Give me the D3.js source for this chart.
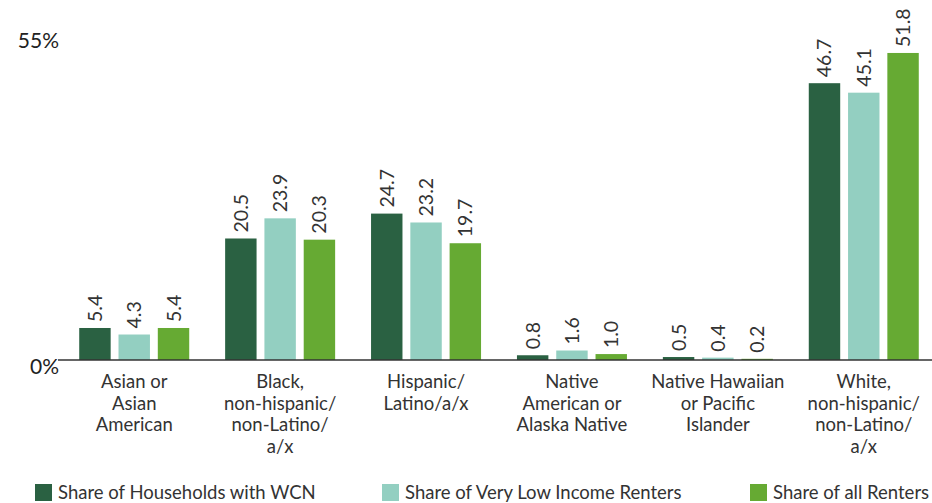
<!DOCTYPE html>
<html>
<head>
<meta charset="utf-8">
<script src="https://cdn.jsdelivr.net/npm/d3@7"></script>
<style>
  body { margin: 0; background: #fff; }
  svg { display: block; font-family: Lato, "Open Sans", sans-serif; }
</style>
</head>
<body>
<svg id="chart" width="932" height="503"></svg>
<script>
var categories = [
    ["Asian or", "Asian", "American"],
    ["Black,", "non-hispanic/", "non-Latino/", "a/x"],
    ["Hispanic/", "Latino/a/x"],
    ["Native", "American or", "Alaska Native"],
    ["Native Hawaiian", "or Pacific", "Islander"],
    ["White,", "non-hispanic/", "non-Latino/", "a/x"]
];
var seriesNames = ["Share of Households with WCN", "Share of Very Low Income Renters", "Share of all Renters"];
var wcn = [5.4, 20.5, 24.7, 0.8, 0.5, 46.7];
var veryLowIncome = [4.3, 23.9, 23.2, 1.6, 0.4, 45.1];
var allRenters = [5.4, 20.3, 19.7, 1.0, 0.2, 51.8];
var yTicks = [0, 55];
var colors = ["#2a6142", "#93cfc1", "#66aa33"];

function SetupChart() {
    var svg = d3.select("#chart");
    var baseY = 360, left = 58, right = 932;

    var series = [wcn, veryLowIncome, allRenters];

    // scales
    var x0 = d3.scaleBand().domain(d3.range(categories.length)).range([62, 936]).paddingInner(0.25).paddingOuter(0.12);
    var x1 = d3.scaleBand().domain(d3.range(series.length)).range([0, 110]).paddingInner(0.2);
    var y = d3.scaleLinear().domain([0, 55]).range([baseY, 34]);

    // centre the three bars in each band
    function groupX(i) { return x0(i) + x0.bandwidth() / 2 - 55; }

    // bars + value labels
    series.forEach(function (vals, s) {
        svg.append("g").selectAll("rect")
            .data(vals)
            .enter().append("rect")
            .attr("x", function (d, i) { return groupX(i) + x1(s); })
            .attr("width", x1.bandwidth())
            .attr("y", function (d) { return y(d); })
            .attr("height", function (d) { return baseY - y(d); })
            .attr("fill", colors[s]);

        svg.append("g").selectAll("text")
            .data(vals)
            .enter().append("text")
            .attr("transform", function (d, i) {
                var cx = groupX(i) + x1(s) + x1.bandwidth() / 2;
                return "translate(" + (cx + 7) + "," + (y(d) - 6) + ") rotate(-90)";
            })
            .attr("font-size", 19.5)
            .attr("fill", "#333")
            .text(function (d) { return d.toFixed(1); });
    });

    // axis line
    svg.append("line")
        .attr("x1", left).attr("x2", right)
        .attr("y1", baseY).attr("y2", baseY)
        .attr("stroke", "#333").attr("stroke-width", 1.5);

    // y tick labels
    svg.append("g").selectAll("text")
        .data(yTicks)
        .enter().append("text")
        .attr("x", left + 1)
        .attr("y", function (d) { return y(d) + 14; })
        .attr("text-anchor", "end")
        .attr("font-size", 21)
        .attr("fill", "#222")
        .text(function (d) { return d + "%"; });

    // category labels
    var cat = svg.append("g").selectAll("text")
        .data(categories)
        .enter().append("text")
        .attr("text-anchor", "middle")
        .attr("font-size", 18.5)
        .attr("fill", "#333")
        .attr("y", 388);
    cat.selectAll("tspan")
        .data(function (d, i) { return d.map(function (t) { return { t: t, i: i }; }); })
        .enter().append("tspan")
        .attr("x", function (d) { return groupX(d.i) + 55; })
        .attr("dy", function (d, j) { return j === 0 ? 0 : 21.5; })
        .text(function (d) { return d.t; });

    // legend
    var legendX = [35, 382, 750];
    var lg = svg.append("g").selectAll("g")
        .data(seriesNames)
        .enter().append("g")
        .attr("transform", function (d, i) { return "translate(" + legendX[i] + ",484)"; });
    lg.append("rect").attr("width", 17).attr("height", 17)
        .attr("fill", function (d, i) { return colors[i]; });
    lg.append("text").attr("x", 23).attr("y", 15)
        .attr("font-size", 18.5).attr("fill", "#333")
        .text(function (d) { return d; });
}

SetupChart();
</script>
</body>
</html>
